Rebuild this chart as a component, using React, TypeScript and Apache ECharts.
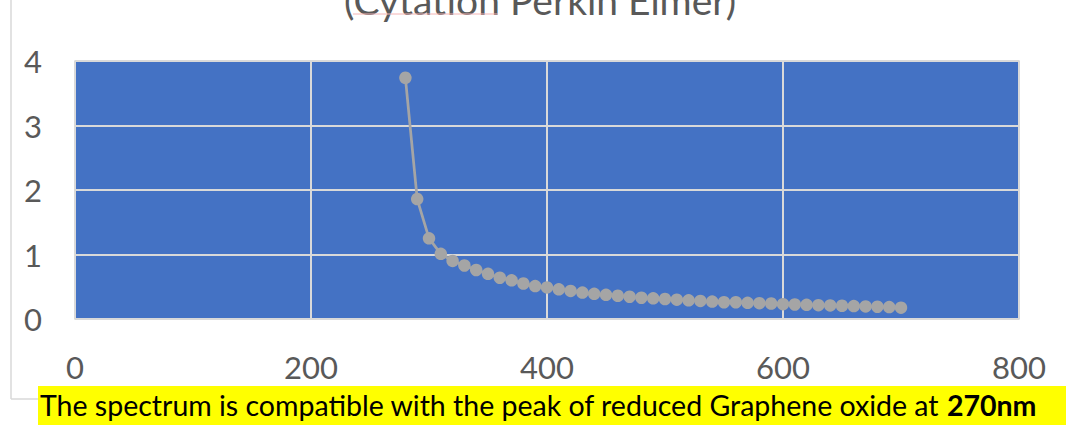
import React, { useEffect, useRef } from "react";
import * as echarts from "echarts";

const wavelengths = [
  280, 290, 300, 310, 320, 330, 340, 350, 360, 370, 380, 390, 400, 410, 420, 430, 440, 450,
  460, 470, 480, 490, 500, 510, 520, 530, 540, 550, 560, 570, 580, 590, 600, 610, 620, 630,
  640, 650, 660, 670, 680, 690, 700,
];
const absorbance = [
  3.74, 1.86, 1.25, 1.01, 0.9, 0.83, 0.76, 0.7, 0.64, 0.6, 0.55, 0.51, 0.49, 0.46, 0.435, 0.41,
  0.39, 0.375, 0.36, 0.345, 0.33, 0.32, 0.31, 0.3, 0.29, 0.28, 0.27, 0.26, 0.26, 0.25, 0.245,
  0.24, 0.23, 0.225, 0.22, 0.215, 0.21, 0.205, 0.2, 0.195, 0.19, 0.185, 0.175,
];
const titleText = "(Cytation Perkin Elmer)";
const noteText = "The spectrum is compatible with the peak of reduced Graphene oxide at ";
const noteBold = "270nm";

const FONT = "Lato, 'Open Sans', sans-serif";

export default function App() {
  const ref = useRef<HTMLDivElement>(null);
  useEffect(() => {
    document.body.style.margin = "0";
    const chart = echarts.init(ref.current!, undefined, { renderer: "svg" });
    chart.setOption({
      animation: false,
      backgroundColor: "#ffffff",
      grid: {
        left: 75,
        top: 61,
        right: 47,
        bottom: 106,
        show: true,
        backgroundColor: "#4472C4",
        borderColor: "#D9D9D9",
        borderWidth: 1.5,
      },
      xAxis: {
        type: "value",
        min: 0,
        max: 800,
        interval: 200,
        axisLine: { show: false },
        axisTick: { show: false },
        splitLine: { show: true, lineStyle: { color: "#D9D9D9", width: 2 } },
        axisLabel: { fontSize: 31, color: "#595959", fontFamily: FONT, margin: 32 },
      },
      yAxis: {
        type: "value",
        min: 0,
        max: 4,
        interval: 1,
        axisLine: { show: false },
        axisTick: { show: false },
        splitLine: { show: true, lineStyle: { color: "#D9D9D9", width: 2 } },
        axisLabel: { fontSize: 31, color: "#595959", fontFamily: FONT, margin: 33 },
      },
      series: [
        {
          type: "line",
          data: wavelengths.map((w, i) => [w, absorbance[i]]),
          symbol: "circle",
          symbolSize: 12.5,
          itemStyle: { color: "#A5A5A5" },
          lineStyle: { color: "#A5A5A5", width: 2.75 },
        },
      ],
      graphic: [
        { type: "line", shape: { x1: 11, y1: 0, x2: 11, y2: 399 }, style: { stroke: "#D9D9D9", lineWidth: 1.5 } },
        { type: "line", shape: { x1: 11, y1: 399, x2: 40, y2: 399 }, style: { stroke: "#D9D9D9", lineWidth: 1.5 } },
        {
          type: "text",
          x: 540,
          y: 19,
          style: {
            text: titleText,
            fontSize: 39,
            fontFamily: FONT,
            fill: "#595959",
            align: "center",
            verticalAlign: "bottom",
          },
        },
        { type: "line", shape: { x1: 353, y1: 14, x2: 498, y2: 14 }, style: { stroke: "#F4B4B4", lineWidth: 1 } },
        { type: "rect", shape: { x: 38, y: 386, width: 1028, height: 39 }, style: { fill: "#FFFF00" } },
        {
          type: "text",
          x: 40,
          y: 405,
          style: {
            text: `{n|${noteText}}{b|${noteBold}}`,
            verticalAlign: "middle",
            rich: {
              n: { fontSize: 28.5, fontFamily: FONT, fill: "#000000", color: "#000000" },
              b: { fontSize: 28.5, fontFamily: FONT, fontWeight: "bold", fill: "#000000", color: "#000000" },
            },
          },
        },
      ],
    });
    return () => chart.dispose();
  }, []);
  return <div ref={ref} style={{ width: 1066, height: 425 }} />;
}
